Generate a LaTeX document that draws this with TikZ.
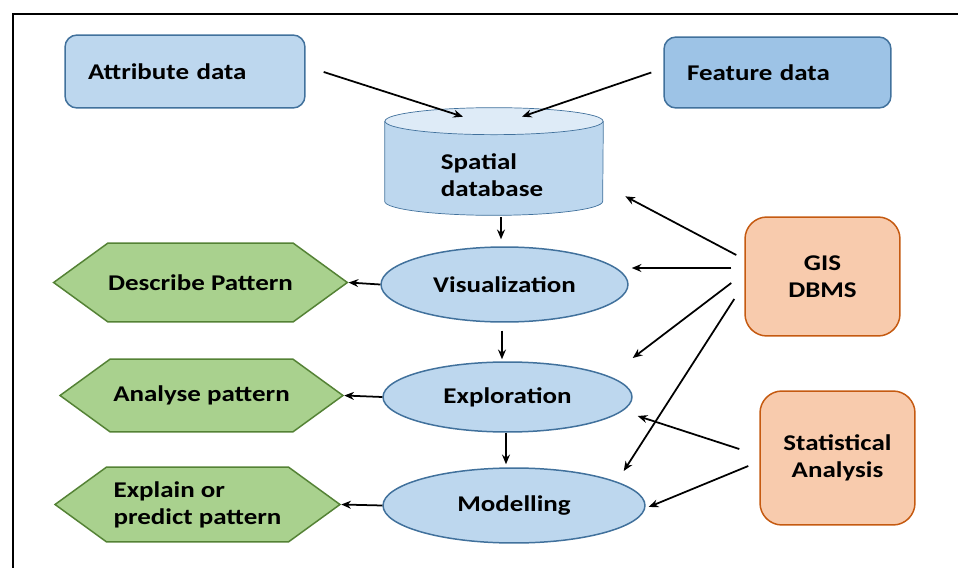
\documentclass[tikz,border=0pt]{standalone}
\usepackage{fontspec}
\setmainfont{Carlito}[FakeStretch=1.2]
\usetikzlibrary{arrows.meta, shapes, calc, positioning, backgrounds}
\definecolor{bluefill}{RGB}{189,215,238}
\definecolor{bluedark}{RGB}{157,195,230}
\definecolor{bluetop}{RGB}{222,235,247}
\definecolor{blueline}{RGB}{65,113,156}
\definecolor{greenfill}{RGB}{169,209,142}
\definecolor{greenline}{RGB}{84,130,53}
\definecolor{orangefill}{RGB}{248,203,173}
\definecolor{orangeline}{RGB}{197,90,17}
\tikzset{>={Stealth[length=5.5pt,width=4.5pt]},
	lbl/.style={font=\fontsize{12.8}{15.3}\selectfont\bfseries},
	datbox/.style={lbl, draw=blueline, line width=0.85pt, rounded corners=0.24cm, inner xsep=0.46cm, inner ysep=0pt, align=left},
	cylbox/.style={minimum width=4.36cm, minimum height=2.14cm, inner sep=0pt},
	stepell/.style={lbl, ellipse, draw=blueline, fill=bluefill, line width=0.85pt, inner sep=0pt},
	hexbox/.style={lbl, signal, signal to=west and east, signal pointer angle=72, draw=greenline, fill=greenfill, line width=0.85pt, inner sep=0pt, align=left},
	toolbox/.style={lbl, draw=orangeline, fill=orangefill, line width=0.85pt, rounded corners=0.44cm, minimum width=3.1cm, align=center},
	link/.style={->, line width=1pt}
}

\begin{document}
\begin{tikzpicture}[x=0.02cm, y=-0.02cm]
	\useasboundingbox (0,0) rectangle (958,568);
	\draw [line width=1.2pt] (13,568) -- (13,14) -- (958,14);
	
	% data sources and database
	\node [datbox, fill=bluefill, text width=3.88cm, minimum height=1.46cm] (attr) at (185,71.5) {Attribute data};
	\node [datbox, fill=bluedark, text width=3.62cm, minimum height=1.42cm] (feat) at (777.5,72.5) {Feature data};
	\node [cylbox, label={[lbl, align=left, shift={(-2,13.5)}]center:{Spatial\\database}}] (db) at (494,161.5) {};
	\begin{scope}[on background layer, line width=0.85pt]
		\fill [bluefill] ($(db.north west)+(0,13.5)$) rectangle ($(db.south east)+(0,-14)$);
		\fill [bluefill] ($(db.south)+(0,-14)$) ellipse [x radius=109, y radius=14];
		\draw [blueline] ($(db.north west)+(0,13.5)$) -- ($(db.south west)+(0,-14)$) arc [start angle=180, end angle=0, x radius=109, y radius=14] -- ($(db.north east)+(0,13.5)$);
		\draw [blueline, fill=bluetop] ($(db.north)+(0,13.5)$) ellipse [x radius=109, y radius=13.5];
	\end{scope}
	
	% analysis steps
	\node [stepell, minimum width=4.94cm, minimum height=1.5cm] (vis) at (504.5,284.5) {Visualization};
	\node [stepell, minimum width=4.98cm, minimum height=1.4cm] (expl) at (507.5,397) {Exploration};
	\node [stepell, minimum width=5.24cm, minimum height=1.5cm] (model) at (514,505.5) {Modelling};
	
	% outcomes
	\node [hexbox, minimum width=5.7cm, minimum height=1.58cm] (desc) at (200.5,282.5) {Describe Pattern};
	\node [hexbox, minimum width=5.66cm, minimum height=1.46cm] (anly) at (201.5,395.5) {Analyse pattern};
	\node [hexbox, minimum width=5.7cm, minimum height=1.5cm] (pred) at (197.5,504.5) {Explain or\\predict pattern};
	
	% tools
	\node [toolbox, minimum height=2.38cm] (gis) at (822.5,276.5) {GIS\\DBMS};
	\node [toolbox, minimum height=2.68cm] (stat) at (837.5,458) {Statistical\\Analysis};
	
	\draw [link] ($(attr.east)+(18,0.5)$) -- ($(db.north)+(-31,9)$);
	\draw [link] ($(feat.west)+(-12,0)$) -- ($(db.north)+(28,9)$);
	\draw [link] ($(db.south)+(7,2)$) -- ($(vis.north)+(-3.5,-7)$);
	\draw [link] ($(vis.south)+(-2.5,8)$) -- ($(expl.north)+(-5.5,-2)$);
	\draw [link] ($(expl.south)+(-1.5,0)$) -- ($(model.north)+(-8,-3)$);
	\draw [link] (vis.west) -- (desc.east);
	\draw [link] (expl.west) -- (anly.east);
	\draw [link] (model.west) -- (pred.east);
	%GIS and statistics feed every step
	\draw [link] ($(gis.west)+(-8,-21.5)$) -- ($(db.south east)+(22,-19)$);
	\draw [link] ($(gis.west)+(-13,-8.5)$) -- ($(vis.east)+(3,-16.5)$);
	\draw [link] ($(gis.west)+(-13,6.5)$) -- ($(expl.east)+(0,-39)$);
	\draw [link] ($(gis.west)+(-10,22.5)$) -- ($(model.east)+(-22,-34.5)$);
	\draw [link] ($(stat.west)+(-20,-9)$) -- ($(expl.east)+(5,19)$);
	\draw [link] ($(stat.west)+(-11,8)$) -- ($(model.east)+(3,1.5)$);
\end{tikzpicture}
\end{document}
